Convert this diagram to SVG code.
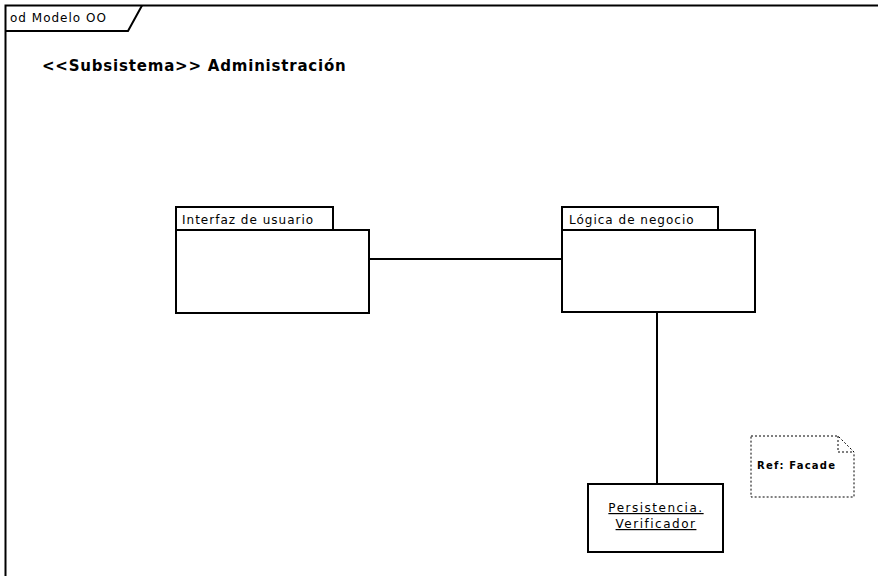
<svg xmlns="http://www.w3.org/2000/svg" width="878" height="576" viewBox="0 0 878 576">
<style>
.ln{fill:none;stroke:#000;stroke-width:2}
.box{fill:#fff;stroke:#000;stroke-width:2}
.t{font-family:"DejaVu Sans",Verdana,sans-serif;font-size:12px;letter-spacing:1px;fill:#000}
.title{font-family:"DejaVu Sans",Verdana,sans-serif;font-size:15px;font-weight:bold;letter-spacing:0.8px;fill:#000}
</style>
<rect width="878" height="576" fill="#fff"/>
<g id="frame">
<path class="ln" d="M878,5.5 H5.5 V576"/>
<path class="ln" d="M5.5,31 H128 L142,5.5"/>
<text class="t" x="10" y="22">od Modelo OO</text>
<text class="title" x="42" y="71">&lt;&lt;Subsistema&gt;&gt; Administración</text>
</g>
<g id="connectors">
<line class="ln" x1="369" y1="259" x2="562" y2="259"/>
<line class="ln" x1="657" y1="313" x2="657" y2="484"/>
</g>
<g id="interfaz">
<rect class="box" x="176" y="207" width="157" height="23"/>
<rect class="box" x="176" y="230" width="193" height="83"/>
<text class="t" x="182" y="224">Interfaz de usuario</text>
</g>
<g id="logica">
<rect class="box" x="562" y="207" width="156" height="23"/>
<rect class="box" x="562" y="230" width="193" height="82"/>
<text class="t" x="569" y="224">Lógica de negocio</text>
</g>
<g id="persistencia">
<rect class="box" x="588" y="484" width="135" height="68"/>
<text class="t" x="656" y="512" text-anchor="middle" text-decoration="underline" style="letter-spacing:1.5px">Persistencia.</text>
<text class="t" x="656" y="528" text-anchor="middle" text-decoration="underline" style="letter-spacing:1.5px">Verificador</text>
</g>
<g id="nota">
<path d="M751,436 H838 L854,452 V497 H751 Z" fill="#fff" stroke="#000" stroke-width="1" stroke-dasharray="2,2"/>
<path d="M838,436 V452 H854" fill="none" stroke="#000" stroke-width="1" stroke-dasharray="2,2"/>
<text class="t" x="757" y="469" font-weight="bold" style="font-size:10px;letter-spacing:1.2px">Ref: Facade</text>
</g>
</svg>
